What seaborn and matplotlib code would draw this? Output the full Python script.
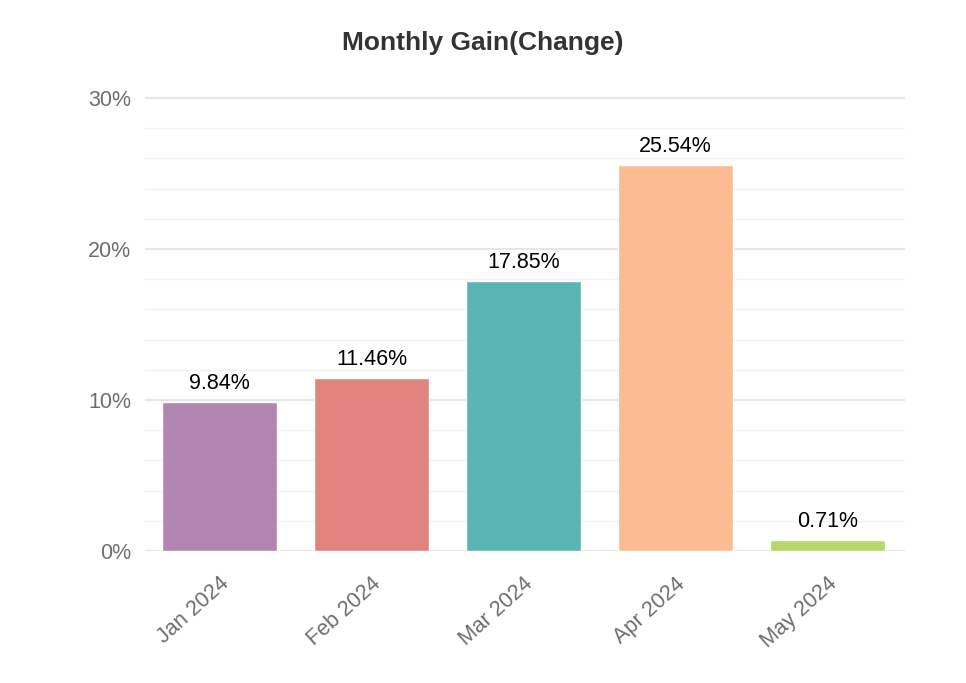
import matplotlib
matplotlib.use("Agg")
import matplotlib.pyplot as plt
import seaborn as sns
import pandas as pd
from matplotlib.ticker import MultipleLocator, FuncFormatter

months = ["Jan 2024", "Feb 2024", "Mar 2024", "Apr 2024", "May 2024"]
gains = [9.84, 11.46, 17.85, 25.54, 0.71]
colors = ["#B385B3", "#E08480", "#5BB5B5", "#FDBB94", "#B8D56A"]

sns.set_theme(style="white")
plt.rcParams["font.family"] = ["Liberation Sans", "DejaVu Sans"]

df = pd.DataFrame({"month": months, "gain": gains})

fig = plt.figure(figsize=(9.66, 6.83), dpi=100)
ax = fig.add_axes([0.150, 0.1933, 0.787, 0.670])

sns.barplot(data=df, x="month", y="gain", hue="month", palette=colors,
            width=0.76, legend=False, ax=ax, saturation=1)

for i, v in enumerate(gains):
    ax.text(i, v + 0.55, f"{v:.2f}%", ha="center", va="bottom", fontsize=15.5, color="black")

ax.set_xlim(-0.49, 4.51)
ax.set_ylim(0, 30.3)
ax.yaxis.set_major_locator(MultipleLocator(10))
ax.yaxis.set_minor_locator(MultipleLocator(2))
ax.yaxis.set_major_formatter(FuncFormatter(lambda v, p: f"{v:.0f}%"))
ax.grid(axis="y", which="major", color="#E6E6E6", linewidth=1.6)
ax.grid(axis="y", which="minor", color="#F3F3F3", linewidth=1.0)
ax.grid(axis="x", visible=False)
ax.set_axisbelow(True)
for s in ax.spines.values():
    s.set_visible(False)
ax.tick_params(axis="y", which="both", length=0, labelsize=15.5, labelcolor="#6E6E6E", pad=10)
ax.tick_params(axis="x", length=0, labelsize=15.5, labelcolor="#6E6E6E", pad=16)
plt.setp(ax.get_xticklabels(), rotation=42, ha="right", rotation_mode="anchor")
ax.set_xlabel("")
ax.set_ylabel("")
fig.suptitle("Monthly Gain(Change)", x=0.5, y=0.955, fontsize=19, fontweight="bold", color="#333333")

fig.savefig("out.png", dpi=100, facecolor="white")
